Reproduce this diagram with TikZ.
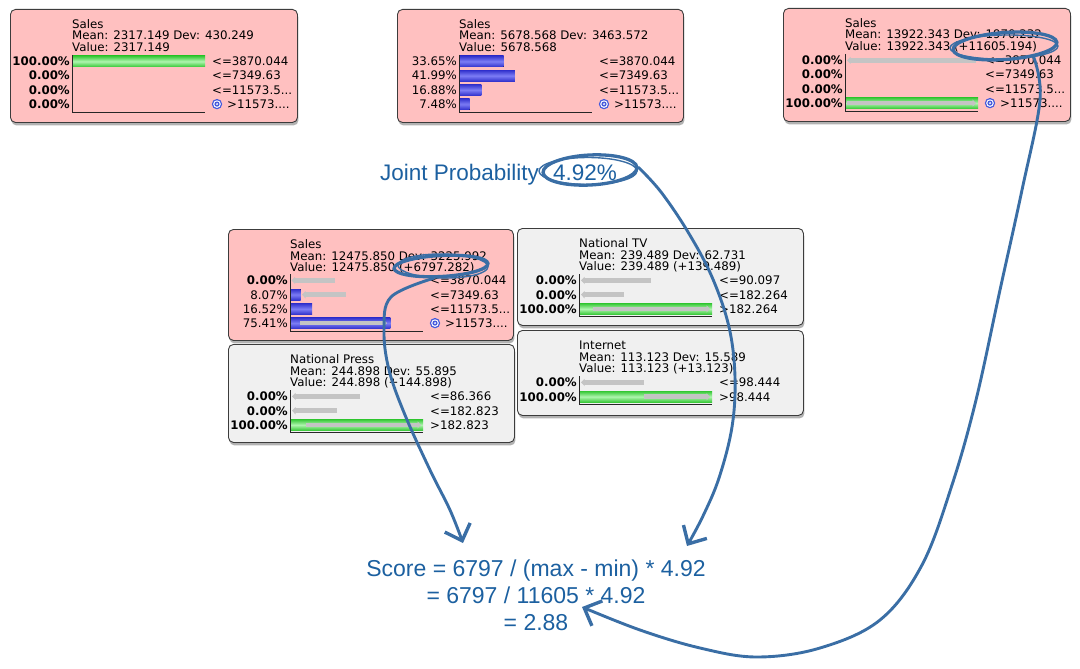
\documentclass[tikz,border=0pt]{standalone}
\usepackage{fontspec}
\setmainfont{DejaVu Sans}
\newfontfamily\arialf{Liberation Sans}
\usetikzlibrary{shapes.geometric,arrows.meta,shadows,calc}

\definecolor{pinkfill}{RGB}{255,192,192}
\definecolor{grayfill}{RGB}{240,240,240}
\definecolor{boxline}{RGB}{60,60,60}
\definecolor{inkblue}{RGB}{58,110,165}
\definecolor{txtblue}{RGB}{28,96,160}
\definecolor{ghostgray}{RGB}{196,196,196}
\definecolor{gdark}{RGB}{55,200,55}
\definecolor{glight}{RGB}{175,245,175}
\definecolor{bdark}{RGB}{50,50,205}
\definecolor{blight}{RGB}{125,125,245}
\definecolor{tgt}{RGB}{70,90,220}

\tikzset{
  bnbox/.style={draw=boxline, line width=0.9pt, rounded corners=5pt, anchor=north west,
    inner sep=0pt, minimum width=286,
    drop shadow={shadow xshift=1pt, shadow yshift=-3pt, opacity=0.3, fill=black}},
  pinkbox/.style={bnbox, fill=pinkfill},
  graybox/.style={bnbox, fill=grayfill},
  ttl/.style={anchor=base west, inner sep=0pt, font=\fontsize{11.8}{12}\selectfont},
  pct/.style={anchor=base east, inner sep=0pt, font=\fontsize{11.8}{12}\selectfont},
  pctb/.style={anchor=base east, inner sep=0pt, font=\fontsize{11.8}{12}\selectfont\bfseries},
  greenbar/.style={top color=gdark, bottom color=gdark, middle color=glight},
  bluebar/.style={top color=bdark, bottom color=bdark, middle color=blight},
  ghostbar/.style={draw=ghostgray, line width=4.5pt, -{Triangle[length=3.5pt,width=7pt]}},
  axisline/.style={draw=black!85, line width=0.9pt},
  bluetxt/.style={inner sep=0pt, text=txtblue, font=\arialf\fontsize{23}{27}\selectfont},
  inkell/.style={ellipse, draw=inkblue, line width=3.3pt, inner sep=0pt},
  inkellthin/.style={ellipse, draw=inkblue, line width=1.4pt, inner sep=0pt},
  inkarrow/.style={draw=inkblue, line width=2.9pt, line cap=round,
    -{Straight Barb[length=14pt,width=27pt,line width=3.4pt]}},
}

% row label helpers (scope coordinates: origin = box north west, y downwards)
\newcommand\bnrow[5]{%
  \node[#3] (#1p) at (60,#2+4.3) {#4};
  \node[ttl] (#1l) at (202,#2+4.3) {#5};}
\newcommand\bntarget[3]{%
  \fill[tgt] (207,#2) circle[radius=5.2];
  \fill[white] (207,#2) circle[radius=3.8];
  \fill[tgt] (207,#2) circle[radius=2.6];
  \fill[white] (207,#2) circle[radius=1.1];
  \node[ttl] (#1l) at (217,#2+4.3) {#3};}
\newcommand\gbar[2]{\fill[greenbar] (62,#1-5.5) rectangle (62+#2,#1+5.5);}
\newcommand\bbar[2]{\fill[bluebar] (62,#1-5.5) rectangle (62+#2,#1+5.5);}
\newcommand\ghost[3]{\draw[ghostbar] (62+#2,#1) -- (62+#3,#1);}
\newcommand\bnaxis[1]{\draw[axisline] (62,46) -- (62,#1) -- (195,#1);}
\newcommand\bntitle[4]{%
  \node[ttl] (#1t) at (62,19.5) {#2};
  \node[ttl] (#1m) at (62,31) {#3};
  \node[ttl] (#1v) at (62,42.5) {#4};}

\begin{document}
\begin{tikzpicture}[x=1pt,y=-1pt]
\useasboundingbox (0,0) rectangle (1080,669);

% ---------- boxes ----------
\node[pinkbox, minimum width=287, minimum height=113] (b1) at (10,9) {};
\node[pinkbox, minimum width=286, minimum height=113] (b2) at (397,9) {};
\node[pinkbox, minimum width=287, minimum height=113] (b3) at (783,8) {};
\node[pinkbox, minimum width=285, minimum height=111] (b4) at (228,229) {};
\node[graybox, minimum width=286, minimum height=97] (b5) at (517,228) {};
\node[graybox, minimum width=286, minimum height=98] (b6) at (228,344) {};
\node[graybox, minimum width=286, minimum height=85] (b7) at (517,330) {};

% box 1
\begin{scope}[shift={(b1.north west)}]
  \bntitle{b1}{Sales}{Mean: 2317.149 Dev: 430.249}{Value: 2317.149}
  \gbar{52.4}{133}
  \bnaxis{103}
  \bnrow{b1r1}{52.4}{pctb}{100.00\%}{<=3870.044}
  \bnrow{b1r2}{66.7}{pctb}{0.00\%}{<=7349.63}
  \bnrow{b1r3}{80.9}{pctb}{0.00\%}{<=11573.5...}
  \node[pctb] (b1r4p) at (60,99.4) {0.00\%};
  \bntarget{b1r4}{95.1}{>11573....}
\end{scope}

% box 2
\begin{scope}[shift={(b2.north west)}]
  \bntitle{b2}{Sales}{Mean: 5678.568 Dev: 3463.572}{Value: 5678.568}
  \bbar{52.4}{44.7}
  \bbar{66.7}{55.8}
  \bbar{80.9}{22.4}
  \bbar{95.1}{10.5}
  \bnaxis{103}
  \bnrow{b2r1}{52.4}{pct}{33.65\%}{<=3870.044}
  \bnrow{b2r2}{66.7}{pct}{41.99\%}{<=7349.63}
  \bnrow{b2r3}{80.9}{pct}{16.88\%}{<=11573.5...}
  \node[pct] (b2r4p) at (60,99.4) {7.48\%};
  \bntarget{b2r4}{95.1}{>11573....}
\end{scope}

% box 3
\begin{scope}[shift={(b3.north west)}]
  \bntitle{b3}{Sales}{Mean: 13922.343 Dev: 1970.232}{Value: 13922.343 (+11605.194)}
  \ghost{52.4}{131}{2}
  \gbar{95.1}{133}
  \ghost{95.1}{2}{131}
  \bnaxis{103}
  \bnrow{b3r1}{52.4}{pctb}{0.00\%}{<=3870.044}
  \bnrow{b3r2}{66.7}{pctb}{0.00\%}{<=7349.63}
  \bnrow{b3r3}{80.9}{pctb}{0.00\%}{<=11573.5...}
  \node[pctb] (b3r4p) at (60,99.4) {100.00\%};
  \bntarget{b3r4}{95.1}{>11573....}
\end{scope}

% box 4
\begin{scope}[shift={(b4.north west)}]
  \bntitle{b4}{Sales}{Mean: 12475.850 Dev: 3225.992}{Value: 12475.850 (+6797.282)}
  \ghost{51.4}{44.7}{1.5}
  \bbar{65.7}{10.7}
  \ghost{65.7}{55.8}{12}
  \bbar{79.9}{22}
  \bbar{94.1}{100.3}
  \ghost{94.1}{10}{97}
  \draw[axisline] (62,45) -- (62,102) -- (195,102);
  \bnrow{b4r1}{51.4}{pctb}{0.00\%}{<=3870.044}
  \bnrow{b4r2}{65.7}{pct}{8.07\%}{<=7349.63}
  \bnrow{b4r3}{79.9}{pct}{16.52\%}{<=11573.5...}
  \node[pct] (b4r4p) at (60,98.4) {75.41\%};
  \bntarget{b4r4}{94.1}{>11573....}
\end{scope}

% box 5 National TV
\begin{scope}[shift={(b5.north west)}]
  \bntitle{b5}{National TV}{Mean: 239.489 Dev: 62.731}{Value: 239.489 (+139.489)}
  \ghost{52.4}{72}{2}
  \ghost{66.7}{45}{2}
  \gbar{80.9}{133}
  \ghost{80.9}{14}{131}
  \bnaxis{88.4}
  \bnrow{b5r1}{52.4}{pctb}{0.00\%}{<=90.097}
  \bnrow{b5r2}{66.7}{pctb}{0.00\%}{<=182.264}
  \bnrow{b5r3}{80.9}{pctb}{100.00\%}{>182.264}
\end{scope}

% box 6 National Press
\begin{scope}[shift={(b6.north west)}]
  \bntitle{b6}{National Press}{Mean: 244.898 Dev: 55.895}{Value: 244.898 (+144.898)}
  \ghost{52.4}{70}{2}
  \ghost{66.7}{47}{2}
  \gbar{80.9}{133}
  \ghost{80.9}{16}{131}
  \bnaxis{88.4}
  \bnrow{b6r1}{52.4}{pctb}{0.00\%}{<=86.366}
  \bnrow{b6r2}{66.7}{pctb}{0.00\%}{<=182.823}
  \bnrow{b6r3}{80.9}{pctb}{100.00\%}{>182.823}
\end{scope}

% box 7 Internet
\begin{scope}[shift={(b7.north west)}]
  \bntitle{b7}{Internet}{Mean: 113.123 Dev: 15.589}{Value: 113.123 (+13.123)}
  \ghost{52.4}{65}{2}
  \gbar{66.7}{133}
  \ghost{66.7}{65}{131}
  \bnaxis{74.2}
  \bnrow{b7r1}{52.4}{pctb}{0.00\%}{<=98.444}
  \bnrow{b7r2}{66.7}{pctb}{100.00\%}{>98.444}
\end{scope}

% ---------- blue annotation texts ----------
\node[bluetxt, anchor=base west, font=\arialf\fontsize{22.5}{27}\selectfont] (jp) at (380,180) {Joint Probability};
\node[bluetxt, anchor=base west, font=\arialf\fontsize{22.5}{27}\selectfont] (jpv) at (553,180) {4.92\%};

\node[bluetxt, anchor=base] (s1) at (536,576) {Score = 6797 / (max - min) * 4.92};
\node[bluetxt, anchor=base] (s2) at (536,603) {= 6797 / 11605 * 4.92};
\node[bluetxt, anchor=base] (s3) at (536,630) {= 2.88};

% ---------- hand-drawn ellipses ----------
\node[inkell, minimum width=94, minimum height=21, rotate=3] (e1) at (441,266) {};
\node[inkellthin, minimum width=90, minimum height=24, rotate=-1] (e1b) at (443,266) {};
\node[inkell, minimum width=94, minimum height=30, rotate=3] (e2) at (590,170) {};
\node[inkellthin, minimum width=98, minimum height=27, rotate=0] (e2b) at (588,171) {};
\node[inkell, minimum width=104, minimum height=27, rotate=4] (e3) at (1005,46) {};
\node[inkellthin, minimum width=108, minimum height=24, rotate=1] (e3b) at (1004,47) {};

% ---------- arrow tips ----------
\coordinate (t1) at (463,543);
\coordinate (t2) at (687,546);
\coordinate (t3) at (582,607);

% ---------- hand-drawn arrows ----------
\draw[inkarrow] plot[smooth, tension=0.6] coordinates
  {(e1.235) (391,297) (384,330) (389,370) (405,415) (430,470) (450,510) (t1)};
\draw[inkarrow] plot[smooth, tension=0.6] coordinates
  {(e2.east) (661,192) (688,232) (712,277) (729,327) (735,377) (732,427) (719,478) (703,516) (t2)};
\draw[inkarrow] plot[smooth, tension=0.6] coordinates
  {(e3.-25) (1040,100) (1022,190) (1000,290) (976,400) (952,485) (922,565) (880,620) (820,648) (757,657) (700,648) (640,630) (t3)};
\end{tikzpicture}
\end{document}
